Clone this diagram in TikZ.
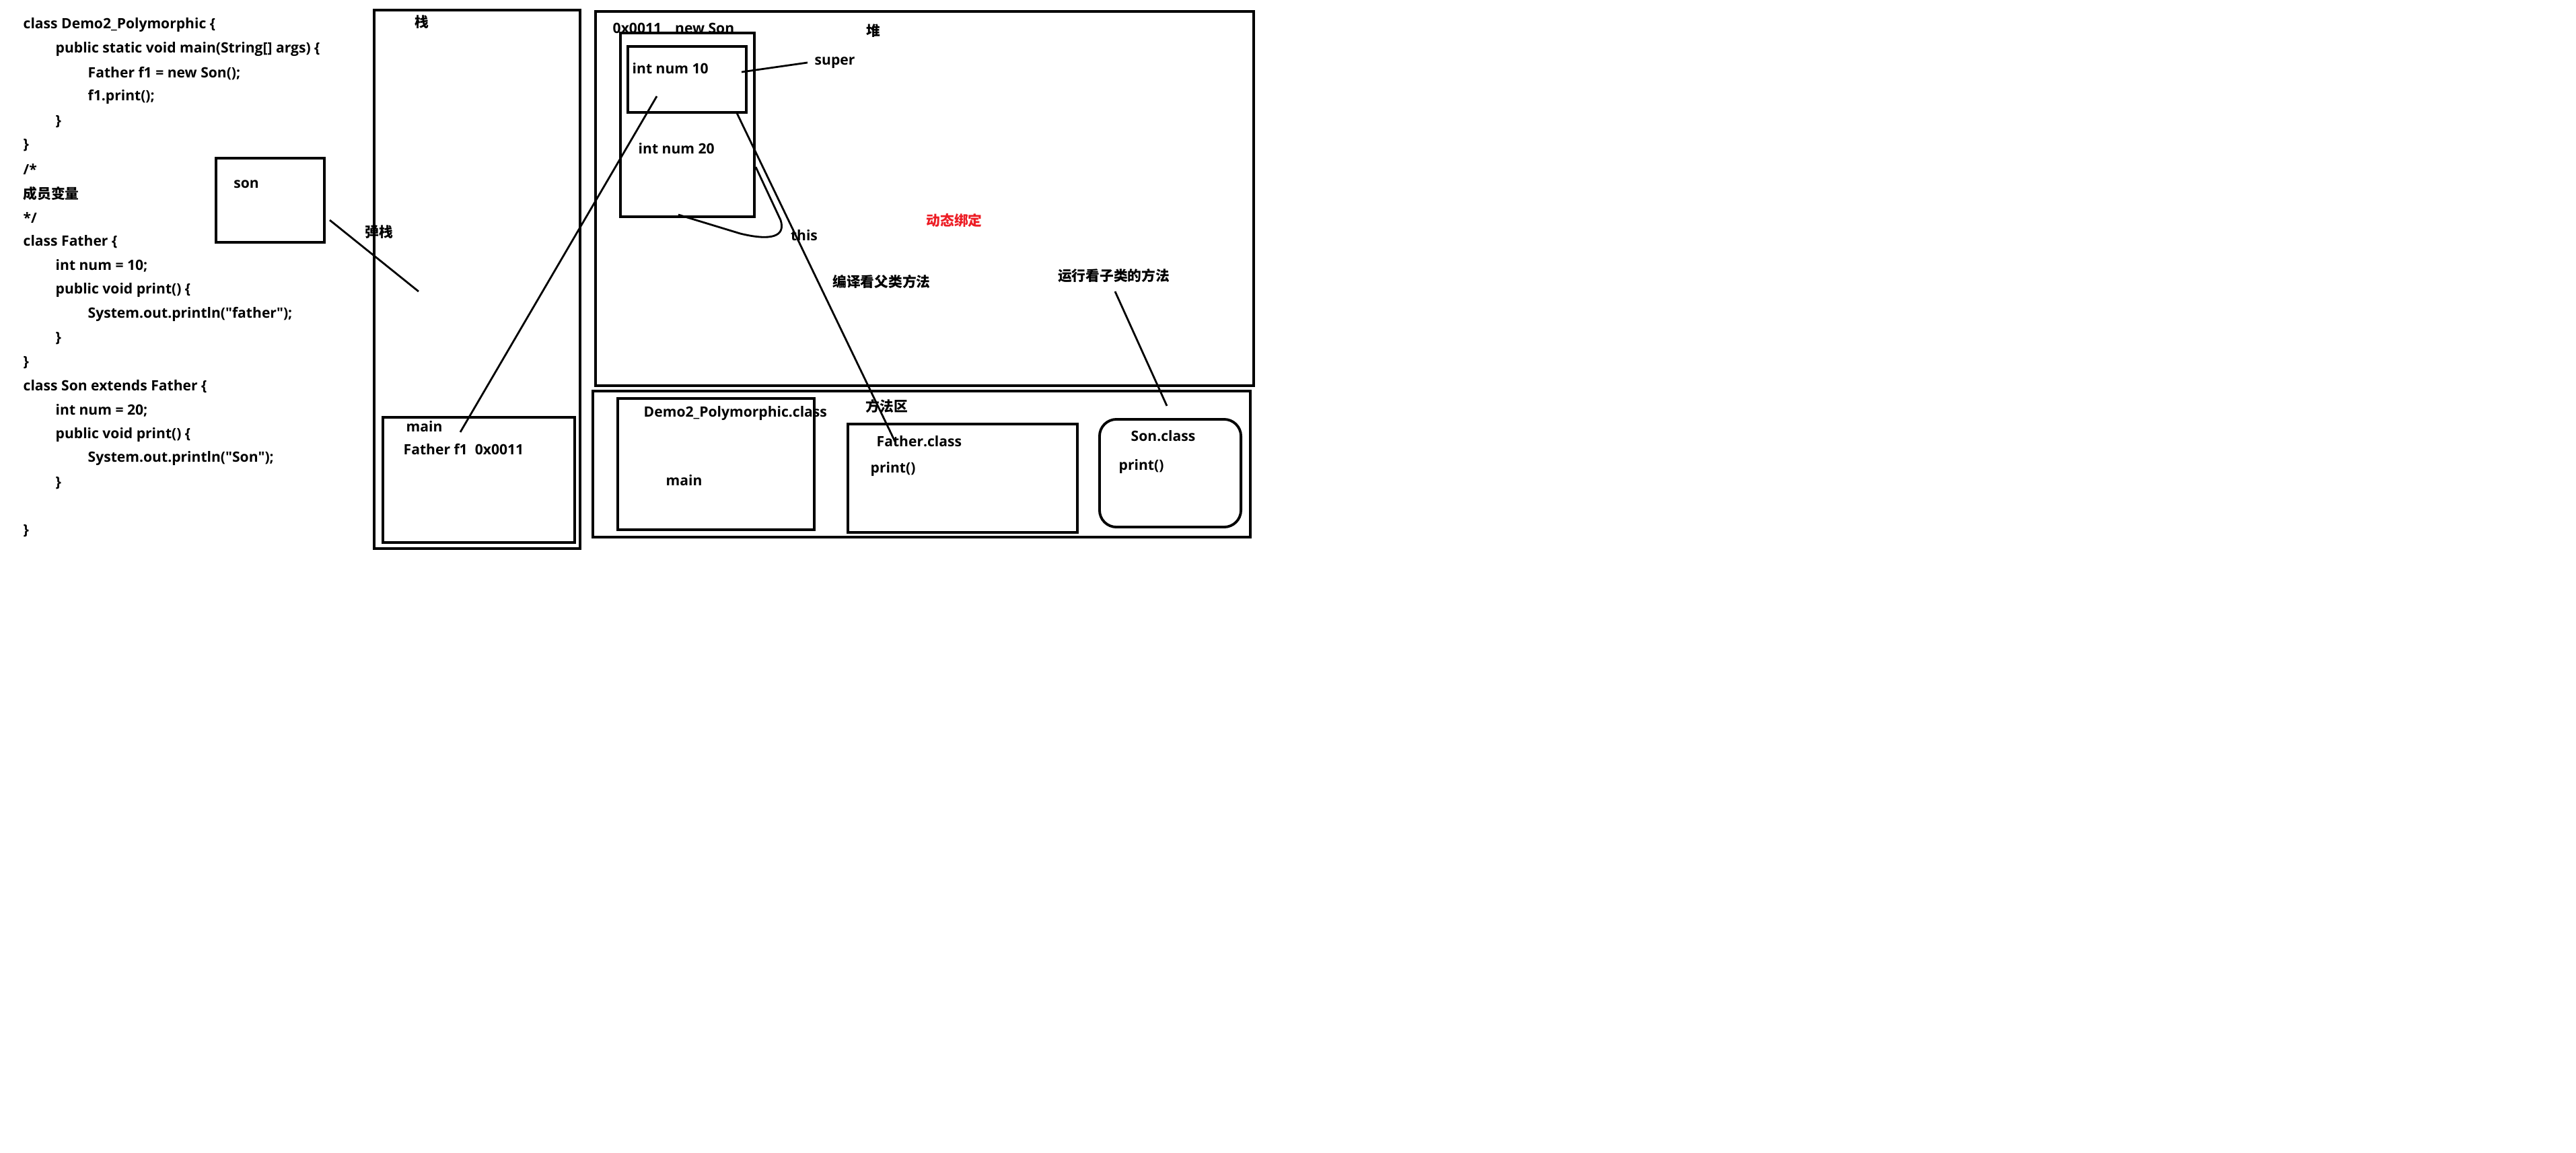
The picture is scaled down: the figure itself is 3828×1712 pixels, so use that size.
\documentclass[tikz,border=0pt]{standalone}
\usepackage{fontspec}
\setmainfont{Open Sans}
\newfontfamily\cjk{Noto Sans CJK SC}
\usetikzlibrary{arrows.meta}
\definecolor{paintred}{HTML}{ED1C24}

\begin{document}
\begin{tikzpicture}[x=0.01cm,y=-0.01cm,
  frame/.style={draw,line width=1.1pt,inner sep=0pt},
  wire/.style={line width=0.8pt},
  lbl/.style={font=\bfseries\fontsize{6}{7}\selectfont,inner sep=0pt},
  zh/.style={font=\cjk\bfseries\fontsize{5.9}{7}\selectfont,inner sep=0pt}]
  \useasboundingbox[fill=white] (0,0) rectangle (3828,1712);
  % source code
  \foreach \k/\ind/\txt in {0/0/{class Demo2\_Polymorphic \{},
      1/1/{public static void main(String[] args) \{},
      2/2/{Father f1 = new Son();}, 3/2/{f1.print();}, 4/1/{\}}, 5/0/{\}},
      6/0/{/*}, 8/0/{*/}, 9/0/{class Father \{}, 10/1/{int num = 10;},
      11/1/{public void print() \{},
      12/2/{System.out.println(\textquotedbl father\textquotedbl);},
      13/1/{\}}, 14/0/{\}}, 15/0/{class Son extends Father \{},
      16/1/{int num = 20;}, 17/1/{public void print() \{},
      18/2/{System.out.println(\textquotedbl Son\textquotedbl);},
      19/1/{\}}, 21/0/{\}}}
    \node[lbl,anchor=west] (code\k) at (34+48*\ind,37+35.8*\k) {\txt};
  \node[zh,anchor=west] (code7) at (34,288) {成员变量};
  % popped frame
  \node[frame,minimum width=1.61cm,minimum height=1.25cm] (son) at (401.5,297.5) {};
  \node[lbl] (sonlbl) at (366,274) {son};
  \node[zh] (pop) at (563,345) {弹栈};
  % stack
  \node[frame,minimum width=3.06cm,minimum height=8cm] (stack) at (709,415) {};
  \node[zh] (stacklbl) at (627,33) {栈};
  \node[frame,minimum width=2.85cm,minimum height=1.86cm] (mainfr) at (711.5,713) {};
  \node[lbl,anchor=west] (mainlbl) at (603,634) {main};
  \node[lbl,anchor=west] (f1) at (599,668) {Father f1~~0x0011};
  % heap
  \node[frame,minimum width=9.78cm,minimum height=5.56cm] (heap) at (1374,295) {};
  \node[zh] (heaplbl) at (1298,46) {堆};
  \node[lbl,anchor=west] (addr) at (910,42) {0x0011\hspace{0.2cm}new Son};
  \node[frame,minimum width=1.99cm,minimum height=2.73cm] (sonobj) at (1021.5,185.5) {};
  \node[frame,minimum width=1.76cm,minimum height=0.98cm] (superbox) at (1021,118) {};
  \node[lbl,anchor=west] (num10) at (939,102) {int num 10};
  \node[lbl,anchor=west] (num20) at (948,221) {int num 20};
  \node[lbl,anchor=west] (superlbl) at (1210,93) {super};
  \node[lbl] (thislbl) at (1195,350) {this};
  \node[zh,text=paintred] (bind) at (1418,327) {动态绑定};
  \node[zh] (compile) at (1310,418) {编译看父类方法};
  \node[zh] (run) at (1655,410) {运行看子类的方法};
  % method area
  \node[frame,minimum width=9.77cm,minimum height=2.17cm] (method) at (1369.5,689.5) {};
  \node[zh] (methodlbl) at (1318,603) {方法区};
  \node[frame,minimum width=2.92cm,minimum height=1.95cm] (democls) at (1064,689.5) {};
  \node[lbl,anchor=west] (demolbl) at (956,614) {Demo2\_Polymorphic.class};
  \node[lbl,anchor=west] (demomain) at (989,714) {main};
  \node[frame,minimum width=3.41cm,minimum height=1.61cm] (fathercls) at (1430.5,710.5) {};
  \node[lbl,anchor=west] (fatherlbl) at (1302,656) {Father.class};
  \node[lbl,anchor=west] (fatherpr) at (1293,697) {print()};
  \node[frame,rounded corners=0.25cm,minimum width=2.1cm,minimum height=1.6cm] (soncls) at (1739,703) {};
  \node[lbl,anchor=west] (sonclslbl) at (1680,648) {Son.class};
  \node[lbl,anchor=west] (sonpr) at (1662,693) {print()};
  % strokes
  \coordinate (popA) at (490,327);
  \coordinate (popB) at (622,433);
  \coordinate (refA) at (684,642);
  \coordinate (refB) at (976,143);
  \coordinate (supA) at (1102,107);
  \coordinate (supB) at (1200,93);
  \coordinate (thisA) at (1095,168);
  \coordinate (thisB) at (1330,656);
  \coordinate (loopA) at (1008,319);
  \coordinate (loopB) at (1123,248);
  \coordinate (runA) at (1657,433);
  \coordinate (runB) at (1734,603);
  \draw[wire] (popA) -- (popB);
  \draw[wire] (refA) -- (refB);
  \draw[wire] (supA) -- (supB);
  \draw[wire] (thisA) -- (thisB);
  \draw[wire] (loopA) -- (1100,347) .. controls (1145,358) and (1168,352) .. (1160,327) -- (loopB);
  \draw[wire] (runA) -- (runB);
\end{tikzpicture}
\end{document}
